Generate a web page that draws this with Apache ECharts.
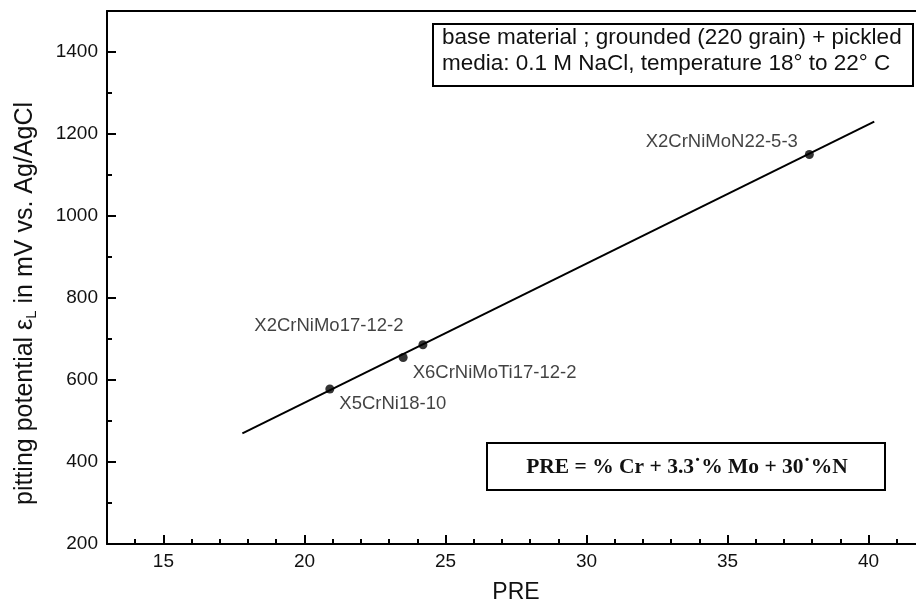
<!DOCTYPE html>
<html>
<head>
<meta charset="utf-8">
<script src="https://cdn.jsdelivr.net/npm/echarts@6/dist/echarts.min.js"></script>
<style>
html,body{margin:0;padding:0;background:#fff;}
#chart{width:916px;height:609px;}
</style>
</head>
<body>
<div id="chart"></div>
<script>
// ---- data ----
var steelNames = ['X5CrNi18-10', 'X6CrNiMoTi17-12-2', 'X2CrNiMo17-12-2', 'X2CrNiMoN22-5-3'];
var preValues = [20.9, 23.5, 24.2, 37.9];
var pittingValues = [578, 655, 686, 1150];
var fitLineX = [17.8, 40.2];
var fitLineY = [470, 1230];
var xTickValues = [15, 20, 25, 30, 35, 40];
var xMinorTickValues = [14,15,16,17,18,19,20,21,22,23,24,25,26,27,28,29,30,31,32,33,34,35,36,37,38,39,40,41];
var yTickValues = [200, 400, 600, 800, 1000, 1200, 1400];
var yMinorTickValues = [200,300,400,500,600,700,800,900,1000,1100,1200,1300,1400];
var legendLines = ['base material ; grounded (220 grain) + pickled', 'media: 0.1 M NaCl, temperature 18\u00B0 to 22\u00B0 C'];
var formulaText = 'PRE = % Cr + 3.3\u02D9% Mo + 30\u02D9%N';

var labelPos = [
  {position: 'right', offset: [0, 15]},
  {position: 'right', offset: [0, 15]},
  {position: 'left', offset: [-10, -19]},
  {position: 'left', offset: [-2, -13]}
];

var chart = echarts.init(document.getElementById('chart'));
var font = 'Liberation Sans, Arial, sans-serif';
var ink = '#111';

var pointData = preValues.map(function (v, i) {
  return {
    value: [v, pittingValues[i]],
    name: steelNames[i],
    label: {show: true, position: labelPos[i].position, offset: labelPos[i].offset, distance: 5,
      formatter: '{b}', color: ink, fontSize: 18.5, fontFamily: font}
  };
});

var lineData = fitLineX.map(function (v, i) { return [v, fitLineY[i]]; });
var plain = function (v) { return String(v); };

var option = {
  backgroundColor: '#fff',
  animation: false,
  grid: {left: 107, top: 11, width: 818, height: 533, outerBoundsMode: 'none', containLabel: false, show: false},
  xAxis: [{
    type: 'value', min: 13, max: 42, position: 'bottom',
    name: 'PRE', nameLocation: 'middle', nameGap: 37,
    nameTextStyle: {fontSize: 23, color: ink, fontFamily: font},
    axisLine: {show: true, lineStyle: {color: '#000', width: 2}},
    axisTick: {show: true, inside: true, length: 9, lineStyle: {color: '#000', width: 2}, customValues: xTickValues},
    axisLabel: {show: true, customValues: xTickValues, formatter: plain, fontSize: 19, color: ink, fontFamily: font, margin: 8},
    splitLine: {show: false}
  }, {
    type: 'value', min: 13, max: 42, position: 'bottom',
    axisLine: {show: false},
    axisTick: {show: true, inside: true, length: 5, lineStyle: {color: '#000', width: 2}, customValues: xMinorTickValues},
    axisLabel: {show: false},
    splitLine: {show: false}
  }, {
    type: 'value', min: 13, max: 42, position: 'top',
    axisLine: {show: true, lineStyle: {color: '#000', width: 2}},
    axisTick: {show: false},
    axisLabel: {show: false},
    splitLine: {show: false}
  }],
  yAxis: [{
    type: 'value', min: 200, max: 1500, position: 'left',
    name: '{a|pitting potential \u03B5}{s|L}{a| in mV vs. Ag/AgCl}', nameLocation: 'middle', nameGap: 68,
    nameTextStyle: {fontSize: 25, color: ink, fontFamily: font, padding: [0, 52, 0, 0],
      rich: {a: {fontSize: 25, color: ink, fontFamily: font},
             s: {fontSize: 15, color: ink, fontFamily: font, padding: [12, 0, 0, 0]}}},
    axisLine: {show: true, lineStyle: {color: '#000', width: 2}},
    axisTick: {show: true, inside: true, length: 9, lineStyle: {color: '#000', width: 2}, customValues: yTickValues},
    axisLabel: {show: true, customValues: yTickValues, formatter: plain, fontSize: 19, color: ink, fontFamily: font, margin: 9},
    splitLine: {show: false}
  }, {
    type: 'value', min: 200, max: 1500, position: 'left',
    axisLine: {show: false},
    axisTick: {show: true, inside: true, length: 5, lineStyle: {color: '#000', width: 2}, customValues: yMinorTickValues},
    axisLabel: {show: false},
    splitLine: {show: false}
  }],
  series: [{
    type: 'line', xAxisIndex: 0, yAxisIndex: 0,
    data: lineData, showSymbol: false, symbol: 'none',
    lineStyle: {color: '#000', width: 2}, z: 2
  }, {
    type: 'scatter', xAxisIndex: 0, yAxisIndex: 0,
    data: pointData, symbol: 'circle', symbolSize: 9,
    itemStyle: {color: '#000'}, z: 3
  }],
  graphic: [
    {type: 'rect', shape: {x: 433, y: 24, width: 480, height: 62}, style: {fill: '#fff', stroke: '#000', lineWidth: 2}, z: 10},
    {type: 'text', x: 442, y: 38, style: {text: legendLines[0], fontSize: 22.5, fontFamily: font, fill: ink, verticalAlign: 'middle'}, z: 11},
    {type: 'text', x: 442, y: 64, style: {text: legendLines[1], fontSize: 22.5, fontFamily: font, fill: ink, verticalAlign: 'middle'}, z: 11},
    {type: 'rect', shape: {x: 487, y: 443, width: 398, height: 47}, style: {fill: '#fff', stroke: '#000', lineWidth: 2}, z: 10},
    {type: 'text', x: 687, y: 467, style: {text: formulaText, fontSize: 21.5, fontWeight: 'bold', fontFamily: 'Liberation Serif, Times New Roman, serif', fill: ink, align: 'center', verticalAlign: 'middle'}, z: 11}
  ]
};
chart.setOption(option);
</script>
</body>
</html>
